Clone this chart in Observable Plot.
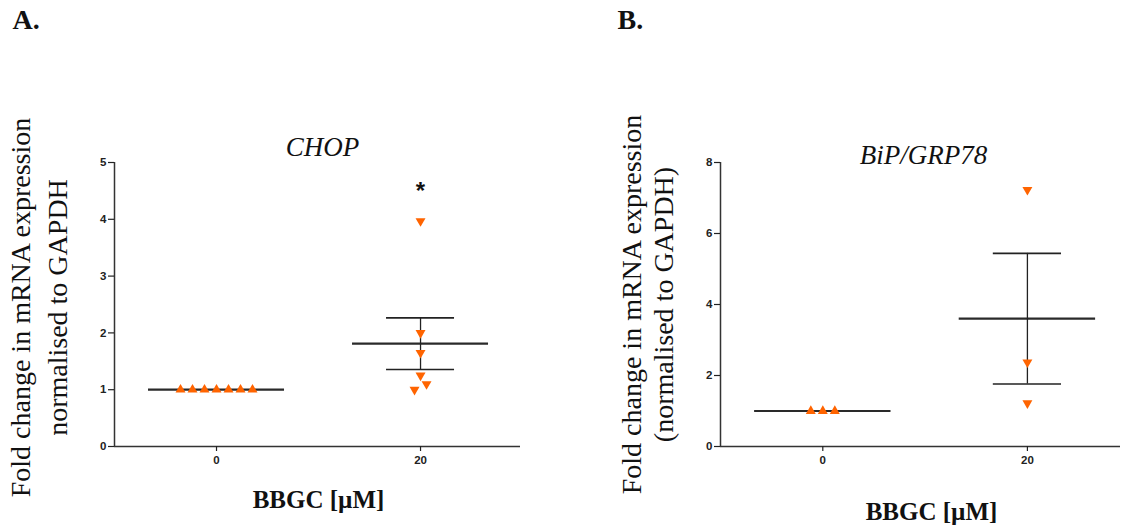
<!DOCTYPE html>
<html><head><meta charset="utf-8">
<script src="https://cdn.jsdelivr.net/npm/d3@7"></script>
<script src="https://cdn.jsdelivr.net/npm/@observablehq/plot@0.6"></script>
<style>
body{margin:0;background:#fff;}
#wrap{position:relative;width:1123px;height:525px;overflow:hidden;background:#fff;}
#wrap svg{position:absolute;top:0;}
</style></head><body><div id="wrap"></div>
<script>
// ---- data ----
const categories = ["0", "20"];
const chopControl = [1, 1, 1, 1, 1, 1, 1];
const chopTreated = [3.97, 2.0, 1.65, 1.25, 1.1, 1.0];
const chopMean = [1.0, 1.81];
const chopSem = [0, 0.455];
const chopYTicks = [0, 1, 2, 3, 4, 5];
const chopStar = [{group: 1, value: 4.55, label: "*"}];

const bipControl = [1, 1, 1];
const bipTreated = [7.23, 2.37, 1.22];
const bipMean = [1.0, 3.6];
const bipSem = [0, 1.84];
const bipYTicks = [0, 2, 4, 6, 8];

const ORANGE = "#ff6400";
const triangleDown = {
  draw(ctx, size) {
    const y = -Math.sqrt(size / (Math.sqrt(3) * 3));
    ctx.moveTo(0, -y * 2);
    ctx.lineTo(-Math.sqrt(3) * y, y);
    ctx.lineTo(Math.sqrt(3) * y, y);
    ctx.closePath();
  }
};

function dodge(values, group, stepPx, pxPerUnit, spacingPx, thresholdPx) {
  const sorted = values.map((v, k) => ({v, k})).sort((a, b) => a.v - b.v);
  const clusters = [];
  for (const s of sorted) {
    const last = clusters[clusters.length - 1];
    if (last && (s.v - last[last.length - 1].v) * pxPerUnit < thresholdPx) last.push(s);
    else clusters.push([s]);
  }
  const out = [];
  for (const c of clusters) {
    c.forEach((s, j) => out.push({group, value: s.v, x: group + (j - (c.length - 1) / 2) * spacingPx / stepPx}));
  }
  return out;
}

function panel(o) {
  const H = 525, mt = 162, mb = 79;
  const frameW = o.width - o.marginLeft - o.marginRight;
  const xDomain = [-0.5, o.xMax];
  const stepPx = frameW / (xDomain[1] - xDomain[0]);
  const pxPerUnit = (H - mt - mb) / o.yMax;
  const ctrl = dodge(o.control, 0, stepPx, pxPerUnit, 12, 8);
  const trt = dodge(o.treated, 1, stepPx, pxPerUnit, 12, 8);
  const stats = categories.map((c, i) => ({i, mean: o.means[i], sem: o.sems[i]}));
  const errs = stats.filter(d => d.sem > 0);
  const marks = [
    Plot.ruleX([xDomain[0]], {stroke: "#333", strokeWidth: 1.5}),
    Plot.ruleY([0], {stroke: "#333", strokeWidth: 1.5}),
    Plot.axisY({ticks: o.yTicks, tickFormat: d => String(d), tickSize: 6, tickPadding: 2, label: null, strokeWidth: 1.2}),
    Plot.axisX({ticks: [0, 1], tickFormat: i => categories[i], tickSize: 5, tickPadding: 4, label: null, strokeWidth: 1.2}),
    Plot.ruleY(stats, {y: "mean", x1: d => d.i - 1 / 3, x2: d => d.i + 1 / 3, stroke: "#2a2a2a", strokeWidth: 2.2}),
    Plot.ruleX(errs, {x: "i", y1: d => d.mean - d.sem, y2: d => d.mean + d.sem, stroke: "#222", strokeWidth: 1.3}),
    Plot.ruleY(errs, {y: d => d.mean + d.sem, x1: d => d.i - 1 / 6, x2: d => d.i + 1 / 6, stroke: "#222", strokeWidth: 1.6}),
    Plot.ruleY(errs, {y: d => d.mean - d.sem, x1: d => d.i - 1 / 6, x2: d => d.i + 1 / 6, stroke: "#222", strokeWidth: 1.6}),
    Plot.dot(ctrl, {x: "x", y: "value", symbol: "triangle", r: 3.7, fill: ORANGE, stroke: "none"}),
    Plot.dot(trt, {x: "x", y: "value", symbol: triangleDown, r: 3.7, fill: ORANGE, stroke: "none"}),
    Plot.text([o.title], {frameAnchor: "top", dx: o.titleDx, dy: o.titleDy, lineAnchor: "bottom", fontSize: 27, fontStyle: "italic", fontWeight: "normal", fontFamily: "Liberation Serif", fill: "#111"}),
    Plot.text([o.yLabel], {frameAnchor: "left", rotate: -90, dx: o.yLabelDx, dy: o.yLabelDy, textAnchor: "middle", lineAnchor: "middle", lineHeight: o.yLabelLineHeight, fontSize: 28, fontWeight: "normal", fontFamily: "Liberation Serif", fill: "#111"}),
    Plot.text(["BBGC [µM]"], {frameAnchor: "bottom", dx: o.xLabelDx, dy: o.xLabelDy, lineAnchor: "bottom", fontSize: 25, fontWeight: "bold", fontFamily: "Liberation Serif", fill: "#111"}),
    Plot.text([o.letter], {frameAnchor: "top-left", dx: o.letterDx, dy: -134, textAnchor: "start", lineAnchor: "bottom", fontSize: 28, fontWeight: "bold", fontFamily: "Liberation Serif", fill: "#111"})
  ];
  if (o.star) marks.push(Plot.text(o.star, {x: "group", y: "value", text: "label", dy: 3, fontSize: 24, fontWeight: "bold", fontFamily: "Liberation Sans", fill: "#111"}));
  const svg = Plot.plot({
    width: o.width, height: H,
    marginLeft: o.marginLeft, marginRight: o.marginRight, marginTop: mt, marginBottom: mb,
    x: {type: "linear", domain: xDomain},
    y: {domain: [0, o.yMax]},
    style: {fontFamily: "Liberation Sans", fontSize: "11.5px", fontWeight: "bold", color: "#222", background: "transparent", overflow: "visible"},
    marks
  });
  svg.style.left = o.left + "px";
  return svg;
}

const wrap = document.getElementById("wrap");
wrap.append(panel({
  left: 0, width: 561, marginLeft: 114, marginRight: 41, xMax: 1.49, yMax: 5, yTicks: chopYTicks,
  control: chopControl, treated: chopTreated, means: chopMean, sems: chopSem,
  title: "CHOP", titleDx: 5, titleDy: -7,
  yLabel: "Fold change in mRNA expression\nnormalised to GAPDH", yLabelDx: -78, yLabelDy: 3, yLabelLineHeight: 1.32,
  xLabelDx: 1, xLabelDy: 61, letter: "A.", letterDx: -102, star: chopStar
}));
wrap.append(panel({
  left: 561, width: 562, marginLeft: 159, marginRight: 3, xMax: 1.455, yMax: 8, yTicks: bipYTicks,
  control: bipControl, treated: bipTreated, means: bipMean, sems: bipSem,
  title: "BiP/GRP78", titleDx: 3, titleDy: 1,
  yLabel: "Fold change in mRNA expression\n(normalised to GAPDH)", yLabelDx: -74, yLabelDy: 0, yLabelLineHeight: 1.14,
  xLabelDx: 11, xLabelDy: 73, letter: "B.", letterDx: -103, star: null
}));
</script></body></html>
